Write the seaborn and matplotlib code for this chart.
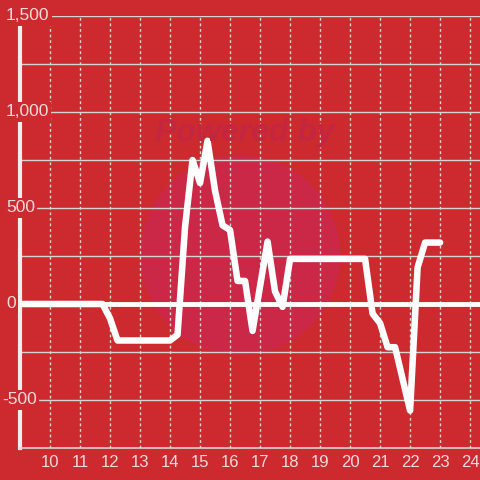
import matplotlib
matplotlib.use('Agg')
import matplotlib.pyplot as plt
import seaborn as sns
import pandas as pd

# Данные (часы / значение)
hours = [9.0, 11.75, 12.0, 12.25, 14.0, 14.25, 14.5, 14.75, 15.0, 15.25,
         15.5, 15.75, 16.0, 16.25, 16.5, 16.75, 17.25, 17.5, 17.75, 18.0,
         20.5, 20.75, 21.0, 21.25, 21.5, 21.75, 22.0, 22.25, 22.5, 23.0]
values = [0, 0, -75, -190, -190, -160, 400, 750, 630, 850,
          590, 410, 385, 120, 120, -140, 325, 65, -15, 235,
          235, -50, -100, -225, -225, -390, -555, 190, 320, 320]

x_ticks = list(range(10, 25))
y_grid = [-500, -250, 250, 500, 750, 1000, 1250, 1500]
y_labels = [-500, 0, 500, 1000, 1500]

bg = '#CD2A2F'
txt = '#F3DCDC'
grid_c = '#D9D4D4'

sns.set_style('white')
plt.rcParams['font.family'] = ['Liberation Sans', 'DejaVu Sans']

df = pd.DataFrame({'hour': hours, 'value': values})

fig = plt.figure(figsize=(4.8, 4.8), dpi=100, facecolor=bg)
ax = fig.add_axes([20 / 480, 32 / 480, 460 / 480, 432 / 480])
ax.set_facecolor(bg)

# водяной знак
circ = plt.Circle((240 / 480, 1 - 255 / 480), 100 / 480, transform=fig.transFigure,
                  facecolor='#CB2847', edgecolor='none', zorder=0.1)
ax.add_patch(circ)
fig.text(245 / 480, 1 - 133 / 480, 'Powered by', color='#C42640', fontsize=23,
         fontweight='bold', style='italic', ha='center', va='center', zorder=0.2)

# сетка
for y in y_grid:
    ax.axhline(y, color=grid_c, lw=1, zorder=0.5)
for x in x_ticks:
    ax.axvline(x, color=grid_c, lw=1, ls=(0, (2, 2)), zorder=0.5)
ax.axhline(0, color='white', lw=3.5, zorder=1)

sns.lineplot(data=df, x='hour', y='value', color='white', lw=4.7, sort=False,
             ax=ax, zorder=3)

ax.set_xlim(9, 24.33)
ax.set_ylim(-750, 1500)
ax.set_xticks(x_ticks)
ax.set_xticklabels([str(t) for t in x_ticks])
ax.set_yticks([])
ax.set_xlabel('')
ax.set_ylabel('')
ax.tick_params(axis='x', length=0, pad=5, labelsize=12, labelcolor=txt)

for s in ['top', 'right']:
    ax.spines[s].set_visible(False)
ax.spines['left'].set_color('#F3EEEE')
ax.spines['left'].set_linewidth(3)
ax.spines['bottom'].set_color(grid_c)
ax.spines['bottom'].set_linewidth(1.2)

# подписи оси Y поверх оси, с фоном
for v in y_labels:
    xpos = -18 / 460 if v < 0 else -14 / 460
    ax.text(xpos, v, f'{v:,}', transform=ax.get_yaxis_transform(),
            ha='left', va='center', fontsize=12.5, color=txt, clip_on=False,
            zorder=5, bbox=dict(facecolor=bg, edgecolor='none', pad=1.5))

plt.savefig('out.png', dpi=100, facecolor=bg)
